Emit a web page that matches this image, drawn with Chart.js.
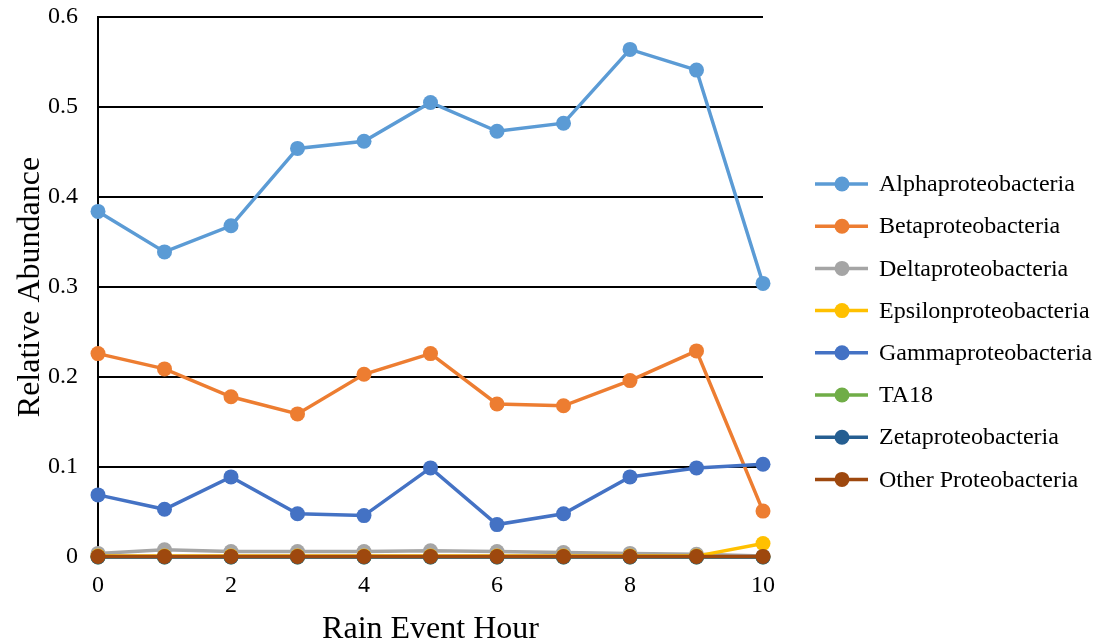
<!DOCTYPE html>
<html>
<head>
<meta charset="utf-8">
<script src="https://cdn.jsdelivr.net/npm/chart.js@4.4.0/dist/chart.umd.min.js"></script>
<style>
  html, body { margin: 0; padding: 0; background: #fff; }
</style>
</head>
<body>
<canvas id="myChart" width="1099" height="641"></canvas>
<script>
// data
const hours = [0, 1, 2, 3, 4, 5, 6, 7, 8, 9, 10];
const seriesNames = [
  'Alphaproteobacteria',
  'Betaproteobacteria',
  'Deltaproteobacteria',
  'Epsilonproteobacteria',
  'Gammaproteobacteria',
  'TA18',
  'Zetaproteobacteria',
  'Other Proteobacteria'
];
const alpha   = [0.384, 0.339, 0.368, 0.454, 0.462, 0.505, 0.473, 0.482, 0.564, 0.541, 0.304];
const beta    = [0.226, 0.209, 0.178, 0.159, 0.203, 0.226, 0.170, 0.168, 0.196, 0.229, 0.051];
const delta   = [0.004, 0.008, 0.006, 0.006, 0.006, 0.007, 0.006, 0.005, 0.004, 0.003, 0.001];
const epsilon = [0.001, 0.001, 0.001, 0.001, 0.001, 0.001, 0.001, 0.001, 0.001, 0.001, 0.015];
const gamma   = [0.069, 0.053, 0.089, 0.048, 0.046, 0.099, 0.036, 0.048, 0.089, 0.099, 0.103];
const ta18    = [0, 0, 0, 0, 0, 0, 0, 0, 0, 0, 0];
const zeta    = [0, 0, 0, 0, 0, 0, 0, 0, 0, 0, 0];
const other   = [0.0005, 0.0005, 0.0005, 0.0005, 0.0005, 0.0005, 0.0005, 0.0005, 0.0005, 0.0005, 0.0005];
const colors  = ['#5B9BD5', '#ED7D31', '#A5A5A5', '#FFC000', '#4472C4', '#70AD47', '#255E91', '#9E480E'];

const FONT = '"Liberation Serif", "Times New Roman", serif';

const allSeries = [alpha, beta, delta, epsilon, gamma, ta18, zeta, other];

const datasets = allSeries.map((vals, i) => ({
  label: seriesNames[i],
  data: vals.map((v, j) => ({ x: hours[j], y: v })),
  borderColor: colors[i],
  backgroundColor: colors[i],
  pointBackgroundColor: colors[i],
  pointBorderColor: colors[i],
  borderWidth: 3.5,
  pointRadius: 7.5,
  pointBorderWidth: 0,
  tension: 0,
  clip: false,
  // excel draws later series on top
  order: allSeries.length - i
}));

// legend on the right: line + dot + name
const sideLegend = {
  id: 'sideLegend',
  afterDraw(chart) {
    const ctx = chart.ctx;
    ctx.save();
    ctx.font = '24px ' + FONT;
    ctx.textBaseline = 'middle';
    chart.data.datasets.forEach((ds, i) => {
      const y = 184 + i * 42.2;
      ctx.strokeStyle = ds.borderColor;
      ctx.lineWidth = 3.5;
      ctx.beginPath();
      ctx.moveTo(815, y);
      ctx.lineTo(868, y);
      ctx.stroke();
      ctx.fillStyle = ds.borderColor;
      ctx.beginPath();
      ctx.arc(842, y, 7.5, 0, Math.PI * 2);
      ctx.fill();
      ctx.fillStyle = '#000';
      ctx.fillText(ds.label, 879, y + 1);
    });
    ctx.restore();
  }
};

new Chart(document.getElementById('myChart'), {
  type: 'line',
  data: { datasets: datasets },
  plugins: [sideLegend],
  options: {
    responsive: false,
    animation: false,
    events: [],
    layout: { padding: { top: 17, right: 336, left: 0, bottom: 0 } },
    plugins: {
      legend: { display: false },
      tooltip: { enabled: false }
    },
    scales: {
      x: {
        type: 'linear',
        min: 0,
        max: 10,
        ticks: {
          stepSize: 2,
          color: '#000',
          padding: 6,
          font: { family: FONT, size: 24 }
        },
        grid: { display: false },
        border: { display: false },
        title: {
          display: true,
          text: 'Rain Event Hour',
          color: '#000',
          padding: { top: 0, bottom: -5 },
          font: { family: FONT, size: 32, lineHeight: 1 }
        },
        afterFit: s => { s.height = 84; s.paddingLeft = 0; s.paddingRight = 0; }
      },
      y: {
        min: 0,
        max: 0.6,
        ticks: {
          stepSize: 0.1,
          color: '#000',
          padding: 20,
          font: { family: FONT, size: 24 }
        },
        grid: { color: '#000', lineWidth: 2, drawTicks: false },
        border: { display: true, color: '#000', width: 2 },
        title: {
          display: true,
          text: 'Relative Abundance',
          color: '#000',
          padding: { top: 11, bottom: 0 },
          font: { family: FONT, size: 32, lineHeight: 1.2 }
        },
        afterFit: s => { s.width = 98; s.paddingTop = 0; s.paddingBottom = 0; }
      }
    }
  }
});
</script>
</body>
</html>
